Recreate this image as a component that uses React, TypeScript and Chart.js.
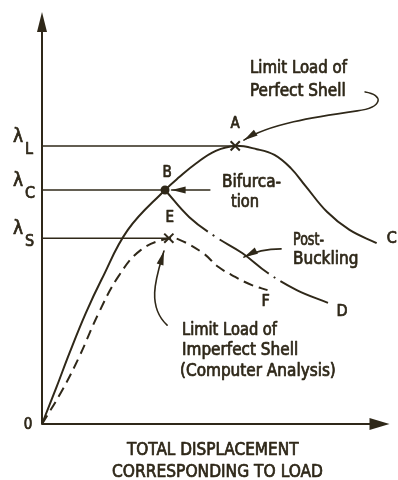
import { useEffect, useRef } from "react";
import { Chart, registerables } from "chart.js";

Chart.register(...registerables);

const INK = "#2f2819";
const FONT = '"DejaVu Sans Condensed", "Liberation Sans Narrow", "DejaVu Sans", sans-serif';

// Perfect shell: fundamental path O – B – A, then unloading toward C
const perfectDisp = [0, 4.2, 7.9, 12.6, 17.1, 24.7, 35.4, 39.6, 44.4, 50.0, 55.6, 61.8, 66.9, 71.6, 75.8, 82.0, 88.5, 96.3];
const perfectLoad = [0, 9.0, 17.2, 26.9, 35.0, 47.1, 56.8, 60.0, 63.3, 66.3, 67.5, 66.7, 65.3, 62.1, 57.8, 51.5, 47.1, 43.9];

// Post-buckling branch B – D
const postDisp = [35.4, 42.4, 50.0, 57.6, 64.9, 73.3, 82.3];
const postLoad = [56.8, 50.2, 45.4, 41.5, 36.7, 32.5, 29.4];

// Imperfect shell (computer analysis): O – E – F
const imperfectDisp = [0, 5.9, 10.7, 16.3, 21.9, 28.4, 36.5, 39.6, 46.3, 50.8, 55.6, 60.4, 64.9];
const imperfectLoad = [0, 8.3, 16.3, 26.9, 35.7, 42.2, 45.1, 44.7, 41.5, 38.1, 35.7, 33.7, 32.5];

// Critical load levels and the displacement at which each is reached
const levelNames = ["L", "C", "S"];
const levelLoads = [67.5, 56.8, 45.1];
const levelDisp = [55.6, 35.4, 36.5];

// Marked points A (limit, perfect), B (bifurcation), E (limit, imperfect)
const pointNames = ["A", "B", "E"];
const pointDisp = [55.6, 35.4, 36.5];
const pointLoad = [67.5, 56.8, 45.1];

const xy = (xs: number[], ys: number[]) => xs.map((x, i) => ({ x, y: ys[i] }));

type Pt = [number, number];

const annotations = {
  id: "annotations",
  afterDatasetsDraw(chart: any) {
    const ctx: CanvasRenderingContext2D = chart.ctx;
    const sx = chart.scales.x;
    const sy = chart.scales.y;
    const P = (p: Pt): Pt => [sx.getPixelForValue(p[0]), sy.getPixelForValue(p[1])];
    const x0 = sx.getPixelForValue(0);
    const y0 = sy.getPixelForValue(0);
    const area = chart.chartArea;

    ctx.save();
    ctx.strokeStyle = INK;
    ctx.fillStyle = INK;
    ctx.lineCap = "round";
    ctx.lineJoin = "round";

    const head = (tip: Pt, from: Pt, len: number, half: number) => {
      const a = Math.atan2(tip[1] - from[1], tip[0] - from[0]);
      const bx = tip[0] - Math.cos(a) * len;
      const by = tip[1] - Math.sin(a) * len;
      ctx.beginPath();
      ctx.moveTo(tip[0], tip[1]);
      ctx.lineTo(bx - Math.sin(a) * half, by + Math.cos(a) * half);
      ctx.lineTo(bx + Math.sin(a) * half, by - Math.cos(a) * half);
      ctx.closePath();
      ctx.fill();
    };

    // axes with arrowheads
    ctx.lineWidth = 2;
    ctx.beginPath();
    ctx.moveTo(x0, y0);
    ctx.lineTo(x0, area.top + 14);
    ctx.moveTo(x0, y0);
    ctx.lineTo(area.right - 14, y0);
    ctx.stroke();
    head([x0, area.top], [x0, area.top + 30], 20, 5);
    head([area.right, y0], [area.right - 30, y0], 20, 6);

    // leader arrows (cubic or straight paths in data units)
    const arrows: Pt[][] = [
      [[93.0, 80.6], [98.3, 79.9], [98.3, 76.9], [90.7, 76.0], [78.1, 74.5], [65.4, 72.8], [58.1, 68.9]],
      [[48.3, 56.8], [45.0, 56.8], [41.0, 56.8], [37.3, 56.8]],
      [[68.8, 42.5], [66.0, 42.5], [62.0, 42.2], [58.1, 40.5]],
      [[36.0, 24.0], [29.8, 28.9], [33.1, 36.2], [35.1, 42.0]],
    ];
    ctx.lineWidth = 1.6;
    for (const a of arrows) {
      const pts = a.map(P);
      ctx.beginPath();
      ctx.moveTo(pts[0][0], pts[0][1]);
      for (let i = 1; i + 2 < pts.length; i += 3) {
        ctx.bezierCurveTo(pts[i][0], pts[i][1], pts[i + 1][0], pts[i + 1][1], pts[i + 2][0], pts[i + 2][1]);
      }
      ctx.stroke();
      head(pts[pts.length - 1], pts[pts.length - 2], 14, 3.5);
    }

    // lettering: filled and lightly stroked for the heavier pen weight
    const txt = (s: string, x: number, y: number, size: number, align: CanvasTextAlign = "left", maxW?: number) => {
      ctx.font = `${size}px ${FONT}`;
      ctx.textAlign = align;
      ctx.textBaseline = "alphabetic";
      ctx.lineWidth = 0.7;
      if (maxW) {
        ctx.fillText(s, x, y, maxW);
        ctx.strokeText(s, x, y, maxW);
      } else {
        ctx.fillText(s, x, y);
        ctx.strokeText(s, x, y);
      }
    };

    // load levels on the vertical axis
    levelNames.forEach((n, i) => {
      const y = sy.getPixelForValue(levelLoads[i]);
      txt("λ", x0 - 29, y - 4, 19);
      txt(n, x0 - 17, y + 8, 16);
    });
    txt("0", x0 - 14, y0 + 5, 15, "center");

    // point letters
    const ptLabel: Record<string, Pt> = { A: [0, -18], B: [2, -13], E: [1, -16] };
    pointNames.forEach((n, i) => {
      const [px, py] = P([pointDisp[i], pointLoad[i]]);
      txt(n, px + ptLabel[n][0], py + ptLabel[n][1], 15, "center");
    });
    const ends: [string, number[], number[], number, number][] = [
      ["C", perfectDisp, perfectLoad, 10, 0],
      ["D", postDisp, postLoad, 14, 13],
      ["F", imperfectDisp, imperfectLoad, -2, 16],
    ];
    for (const [n, xs, ys, dx, dy] of ends) {
      const [px, py] = P([xs[xs.length - 1], ys[ys.length - 1]]);
      txt(n, px + dx, py + dy, 16, n === "C" ? "left" : "center");
    }

    // notes
    txt("Limit Load of", 250, 73, 17, "left", 97);
    txt("Perfect Shell", 250, 96, 17, "left", 102);
    txt("Bifurca-", 222, 187, 17, "left", 66);
    txt("tion", 231, 207, 17, "left", 28);
    txt("Post-", 293, 245, 17, "left", 31);
    txt("Buckling", 293, 264, 17, "left", 67);
    txt("Limit Load of", 182, 335, 17, "left", 95);
    txt("Imperfect Shell", 182, 355, 17, "left", 120);
    txt("(Computer Analysis)", 180, 376, 17, "left", 158);

    // axis title
    txt("TOTAL DISPLACEMENT", 127, 455, 17, "left", 175);
    txt("CORRESPONDING TO LOAD", 112, 477, 18, "left", 211);

    ctx.restore();
  },
};

export default function App() {
  const ref = useRef<HTMLCanvasElement>(null);

  useEffect(() => {
    if (!ref.current) return;
    const line = { borderColor: INK, borderWidth: 2, pointRadius: 0, fill: false, clip: false as any };
    const chart = new Chart(ref.current, {
      type: "line",
      data: {
        datasets: [
          {
            label: "points",
            data: xy(pointDisp, pointLoad),
            showLine: false,
            pointStyle: ["crossRot", "circle", "crossRot"] as any,
            pointRadius: [6.5, 3.5, 6.5],
            pointBorderWidth: 2,
            pointBorderColor: INK,
            pointBackgroundColor: INK,
            clip: false as any,
          },
          { label: "perfect", data: xy(perfectDisp, perfectLoad), tension: 0.4, ...line },
          { label: "post-buckling", data: xy(postDisp, postLoad), tension: 0.4, borderDash: [60, 6, 2, 6], ...line },
          { label: "imperfect", data: xy(imperfectDisp, imperfectLoad), tension: 0.4, borderDash: [10, 6], ...line },
          ...levelLoads.map((v, i) => ({
            label: "λ" + levelNames[i],
            data: [{ x: 0, y: v }, { x: levelDisp[i], y: v }],
            tension: 0,
            ...line,
            borderWidth: 1.5,
          })),
        ],
      },
      options: {
        animation: false,
        responsive: false,
        devicePixelRatio: 1,
        events: [],
        layout: { padding: { left: 42, right: 0, top: 12, bottom: 56 } },
        scales: {
          x: { type: "linear", min: 0, max: 100, display: false },
          y: { type: "linear", min: 0, max: 100, display: false },
        },
        plugins: { legend: { display: false }, tooltip: { enabled: false } },
      },
      plugins: [annotations],
    });
    return () => chart.destroy();
  }, []);

  return (
    <div style={{ position: "fixed", left: 0, top: 0, width: 398, height: 480, background: "#fff" }}>
      <canvas ref={ref} width={398} height={480} style={{ display: "block" }} />
    </div>
  );
}
